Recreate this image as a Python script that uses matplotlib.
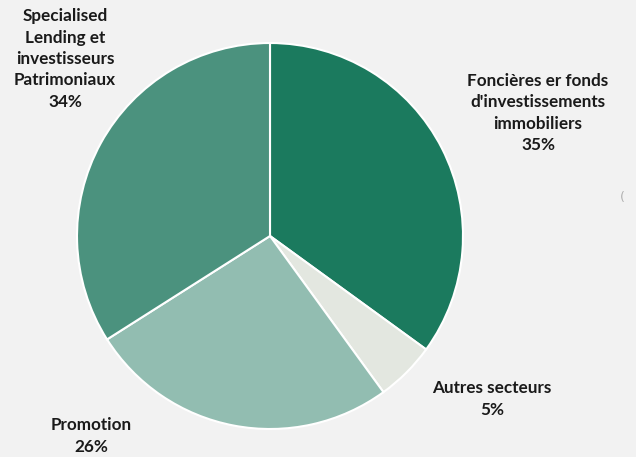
import matplotlib.pyplot as plt

labels = [
    "Foncières er fonds\nd'investissements\nimmobiliers",
    "Autres secteurs",
    "Promotion",
    "Specialised\nLending et\ninvestisseurs\nPatrimoniaux",
]
shares = [35, 5, 26, 34]
colors = ["#1b7a5e", "#e3e7e0", "#92bdb1", "#4b927e"]
# label anchor (pixels, top-left origin)
label_pos = [(538, 113), (492, 399), (91, 436), (65, 59)]

W, H = 636, 457
fig = plt.figure(figsize=(W / 100, H / 100), dpi=100)
fig.patch.set_facecolor("#f2f2f2")
ax = fig.add_axes([0, 0, 1, 1])
ax.set_facecolor("#f2f2f2")

ax.pie(
    shares,
    colors=colors,
    startangle=90,
    counterclock=False,
    center=(270, H - 236),
    radius=193,
    wedgeprops=dict(edgecolor="white", linewidth=1.5),
    frame=True,
)
ax.set_xlim(0, W)
ax.set_ylim(0, H)
ax.set_aspect("equal")
ax.axis("off")

for lab, val, (x, y) in zip(labels, shares, label_pos):
    ax.text(
        x,
        H - y,
        f"{lab}\n{val}%",
        ha="center",
        va="center",
        fontsize=12.3,
        fontweight="bold",
        family="Lato",
        color="#1a1a1a",
        linespacing=1.42,
    )

ax.text(622, H - 197, "(", ha="center", va="center", fontsize=9, color="#b0b0b0")

fig.savefig("out.png", dpi=100, facecolor=fig.get_facecolor())
